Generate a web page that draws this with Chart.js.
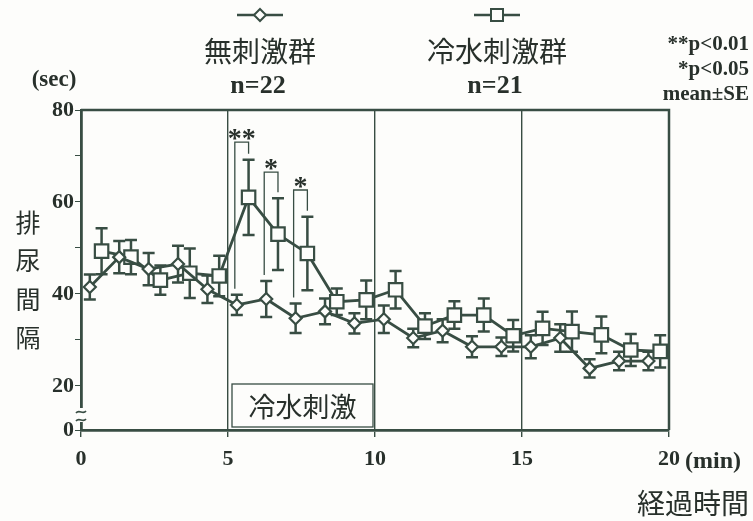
<!DOCTYPE html>
<html>
<head>
<meta charset="utf-8">
<script src="https://cdn.jsdelivr.net/npm/chart.js@4"></script>
<style>
  html, body { margin: 0; background: #fdfdfb; }
  #wrap { width: 753px; height: 521px; }
</style>
</head>
<body>
<div id="wrap"><canvas id="c"></canvas></div>
<script>
// 無刺激群 (diamond) and 冷水刺激群 (square), minutes / seconds
const noStimX = [0.3, 1.3, 2.3, 3.3, 4.3, 5.3, 6.3, 7.3, 8.3, 9.3, 10.3, 11.3, 12.3, 13.3, 14.3, 15.3, 16.3, 17.3, 18.3, 19.3];
const noStimMean = [41.5, 48, 45.4, 46.5, 41, 37.6, 38.9, 34.7, 36.2, 33.6, 34.5, 30.4, 32, 28.5, 28.5, 28.5, 30.4, 23.8, 25.4, 25.4];
const noStimSE = [2.7, 3.5, 3.5, 4, 3, 2.2, 3.9, 3.2, 2.8, 2.2, 3, 2, 2.5, 2.3, 2, 2.5, 3, 2, 2, 2];

const coldX = [0.7, 1.7, 2.7, 3.7, 4.7, 5.7, 6.7, 7.7, 8.7, 9.7, 10.7, 11.7, 12.7, 13.7, 14.7, 15.7, 16.7, 17.7, 18.7, 19.7];
const coldMean = [49.3, 48, 43, 44.5, 43.9, 61, 53, 48.8, 38.3, 38.7, 40.9, 33, 35.4, 35.4, 30.9, 32.5, 31.8, 31.1, 27.8, 27.5];
const coldSE = [5, 3.7, 3.2, 5.4, 4.4, 8.2, 7.8, 8, 2.9, 4.2, 4.1, 2.8, 3, 3.6, 3.4, 3.6, 4.4, 4, 3.5, 3.5];

// significance brackets (index into the series above)
const sigIndex = [5, 6, 7];
const sigLabels = ['**', '*', '*'];
const sigTop = [73, 66.5, 62.6];

const xTicks = [0, 5, 10, 15, 20];
const yTickValues = [10.4, 20, 30, 40, 50, 60, 70, 80];
const yTickLabels = ['0', '20', '', '40', '', '60', '', '80'];

const lineColor = '#384d43';
const textColor = '#28302b';
const bg = '#fdfdfb';
const serif = '"Liberation Serif", "DejaVu Serif", serif';
const jp = '"Noto Sans CJK JP", sans-serif';

function errorBars(ctx, xs, ys, ses, sx, sy) {
    xs.forEach((x, i) => {
        const px = sx.getPixelForValue(x);
        const top = sy.getPixelForValue(ys[i] + ses[i]);
        const bot = sy.getPixelForValue(ys[i] - ses[i]);
        ctx.beginPath();
        ctx.moveTo(px, top); ctx.lineTo(px, bot);
        ctx.moveTo(px - 6, top); ctx.lineTo(px + 6, top);
        ctx.moveTo(px - 6, bot); ctx.lineTo(px + 6, bot);
        ctx.stroke();
    });
}

const extras = {
    id: 'extras',
    beforeDatasetsDraw(chart) {
        const ctx = chart.ctx;
        const sx = chart.scales.x, sy = chart.scales.y;
        ctx.save();
        ctx.strokeStyle = lineColor;
        ctx.lineWidth = 2.5;
        errorBars(ctx, noStimX, noStimMean, noStimSE, sx, sy);
        errorBars(ctx, coldX, coldMean, coldSE, sx, sy);
        ctx.restore();
    },
    afterDraw(chart) {
        const ctx = chart.ctx;
        const a = chart.chartArea;
        const sx = chart.scales.x, sy = chart.scales.y;
        ctx.save();

        // frame top / right
        ctx.strokeStyle = lineColor;
        ctx.lineWidth = 2.5;
        ctx.beginPath();
        ctx.moveTo(a.left, a.top); ctx.lineTo(a.right, a.top); ctx.lineTo(a.right, a.bottom);
        ctx.stroke();

        // axis break
        ctx.fillStyle = bg;
        ctx.fillRect(a.left - 2, a.bottom - 22, 4, 14);
        ctx.lineWidth = 1.6;
        [a.bottom - 18, a.bottom - 10].forEach(y => {
            ctx.beginPath();
            ctx.moveTo(a.left - 5, y + 1);
            ctx.bezierCurveTo(a.left - 2, y - 3, a.left + 2, y + 3, a.left + 5, y - 1);
            ctx.stroke();
        });

        // significance brackets
        ctx.lineWidth = 1.3;
        ctx.fillStyle = textColor;
        ctx.textAlign = 'center';
        ctx.textBaseline = 'alphabetic';
        ctx.font = 'bold 28px ' + serif;
        sigIndex.forEach((idx, k) => {
            const xl = sx.getPixelForValue(noStimX[idx]) - 2;
            const xr = sx.getPixelForValue(coldX[idx]);
            const yt = sy.getPixelForValue(sigTop[k]);
            const yl = sy.getPixelForValue(noStimMean[idx] + noStimSE[idx]) - 6;
            const yr = sy.getPixelForValue(coldMean[idx] + coldSE[idx]) - 6;
            ctx.beginPath();
            ctx.moveTo(xl, yl); ctx.lineTo(xl, yt); ctx.lineTo(xr, yt); ctx.lineTo(xr, yr);
            ctx.stroke();
            ctx.fillText(sigLabels[k], (xl + xr) / 2, yt + 5);
        });

        // 冷水刺激 box
        const bl = sx.getPixelForValue(5) + 4, br = sx.getPixelForValue(10) - 2;
        const bt = a.bottom - 46, bb = a.bottom - 3;
        ctx.lineWidth = 1.3;
        ctx.fillStyle = bg;
        ctx.fillRect(bl, bt, br - bl, bb - bt);
        ctx.strokeRect(bl, bt, br - bl, bb - bt);
        ctx.fillStyle = textColor;
        ctx.textBaseline = 'middle';
        ctx.font = '27px ' + jp;
        ctx.fillText('冷水刺激', (bl + br) / 2, (bt + bb) / 2 + 1);

        // y title
        ctx.font = '25px ' + jp;
        ['排', '尿', '間', '隔'].forEach((ch, i) => ctx.fillText(ch, 28, 222 + i * 38.5));

        // units
        ctx.font = 'bold 23px ' + serif;
        ctx.fillText('(sec)', 54, 80);
        ctx.textAlign = 'left';
        ctx.font = 'bold 24px ' + serif;
        ctx.fillText('(min)', 685, 462);
        ctx.textAlign = 'right';
        ctx.font = '28px ' + jp;
        ctx.fillText('経過時間', 749, 503);

        // notes
        ctx.font = 'bold 21px ' + serif;
        ctx.fillText('**p<0.01', 749, 45);
        ctx.fillText('*p<0.05', 749, 70);
        ctx.fillText('mean±SE', 749, 95);

        // legend
        ctx.textAlign = 'center';
        chart.data.datasets.forEach((ds, i) => {
            const cx = i === 0 ? 260 : 497;
            ctx.strokeStyle = lineColor;
            ctx.lineWidth = 2.5;
            ctx.beginPath();
            ctx.moveTo(cx - 23, 15); ctx.lineTo(cx + 23, 15);
            ctx.stroke();
            ctx.fillStyle = bg;
            ctx.lineWidth = 2;
            ctx.beginPath();
            if (ds.pointStyle === 'rectRot') {
                ctx.moveTo(cx, 9); ctx.lineTo(cx + 6, 15); ctx.lineTo(cx, 21); ctx.lineTo(cx - 6, 15);
                ctx.closePath();
            } else {
                ctx.rect(cx - 6, 9, 12, 12);
            }
            ctx.fill(); ctx.stroke();
            ctx.fillStyle = textColor;
            ctx.font = '28px ' + jp;
            ctx.fillText(ds.label, cx, 51);
            ctx.font = 'bold 26px ' + serif;
            ctx.fillText(ds.n, cx - 2, 86);
        });

        ctx.restore();
    }
};

new Chart(document.getElementById('c'), {
    type: 'line',
    data: {
        datasets: [{
            label: '無刺激群',
            n: 'n=22',
            data: noStimX.map((x, i) => ({ x: x, y: noStimMean[i] })),
            borderColor: lineColor,
            borderWidth: 2.8,
            pointStyle: 'rectRot',
            pointRadius: 6,
            pointBorderWidth: 2.2,
            pointBackgroundColor: bg,
            pointBorderColor: lineColor,
            tension: 0
        }, {
            label: '冷水刺激群',
            n: 'n=21',
            data: coldX.map((x, i) => ({ x: x, y: coldMean[i] })),
            borderColor: lineColor,
            borderWidth: 2.8,
            pointStyle: 'rect',
            pointRadius: 9.5,
            pointBorderWidth: 2.2,
            pointBackgroundColor: bg,
            pointBorderColor: lineColor,
            tension: 0
        }]
    },
    options: {
        responsive: true,
        maintainAspectRatio: false,
        animation: false,
        layout: { padding: { top: 110, right: 84, bottom: 31, left: 0 } },
        plugins: { legend: { display: false }, tooltip: { enabled: false } },
        scales: {
            x: {
                type: 'linear',
                min: 0,
                max: 20,
                afterBuildTicks: s => { s.ticks = xTicks.map(v => ({ value: v })); },
                afterFit: s => { s.height = 60; },
                ticks: { color: textColor, font: { family: serif, size: 22, weight: 'bold' }, padding: 9, maxRotation: 0 },
                grid: {
                    drawOnChartArea: true,
                    color: c => (c.tick && c.tick.value > 0 && c.tick.value < 20) ? lineColor : 'rgba(0,0,0,0)',
                    lineWidth: 1.4,
                    tickColor: lineColor,
                    tickLength: 7
                },
                border: { display: true, color: lineColor, width: 2.8 }
            },
            y: {
                type: 'linear',
                min: 10.4,
                max: 80,
                afterBuildTicks: s => { s.ticks = yTickValues.map(v => ({ value: v })); },
                afterFit: s => { s.width = 81; },
                ticks: {
                    color: textColor,
                    font: { family: serif, size: 22, weight: 'bold' },
                    padding: 1,
                    callback: (v, i) => yTickLabels[i]
                },
                grid: { drawOnChartArea: false, tickColor: lineColor, tickLength: 6 },
                border: { display: true, color: lineColor, width: 2.8 }
            }
        }
    },
    plugins: [extras]
});
</script>
</body>
</html>
